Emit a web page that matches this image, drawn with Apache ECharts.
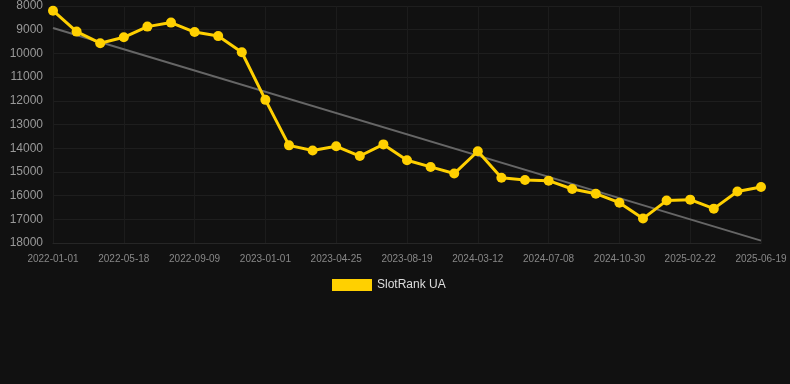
<!DOCTYPE html>
<html>
<head>
<meta charset="utf-8">
<script src="https://cdn.jsdelivr.net/npm/echarts@6/dist/echarts.min.js"></script>
<style>
html,body{margin:0;padding:0;background:#111111;}
#chart{width:790px;height:384px;}
</style>
</head>
<body>
<div id="chart"></div>
<script>
var categories = [
  '2022-01-01','2022-02-15','2022-04-01','2022-05-18','2022-06-25','2022-08-02','2022-09-09','2022-10-17','2022-11-24',
  '2023-01-01','2023-02-08','2023-03-18','2023-04-25','2023-06-02','2023-07-11','2023-08-19','2023-10-27','2024-01-04',
  '2024-03-12','2024-04-20','2024-05-30','2024-07-08','2024-08-15','2024-09-22','2024-10-30','2024-12-08','2025-01-15',
  '2025-02-22','2025-04-01','2025-05-10','2025-06-19'
];
var rankValues = [
  8200, 9080, 9570, 9320, 8870, 8700, 9100, 9270, 9950,
  11960, 13880, 14100, 13920, 14330, 13840, 14510, 14790, 15070,
  14130, 15250, 15340, 15370, 15720, 15920, 16300, 16970, 16210,
  16170, 16550, 15830, 15640
];
var trendStart = 8930;
var trendEnd = 17900;
var yTicks = [8000, 18000, 1000];

var trendValues = categories.map(function (c, i) {
  return i === 0 ? trendStart : (i === categories.length - 1 ? trendEnd : null);
});

var chart = echarts.init(document.getElementById('chart'), null, {renderer: 'canvas'});
chart.setOption({
  backgroundColor: '#111111',
  animation: false,
  grid: {left: 53, right: 29, top: 6, bottom: 141, containLabel: false},
  legend: {
    data: [{name: 'SlotRank UA', icon: 'rect'}],
    top: 274,
    left: 327,
    itemWidth: 40,
    itemHeight: 12,
    textStyle: {color: '#dddddd', fontSize: 12, fontFamily: 'Liberation Sans, Arial, sans-serif'}
  },
  xAxis: {
    type: 'category',
    data: categories,
    boundaryGap: false,
    axisLine: {show: true, lineStyle: {color: '#262626'}},
    axisTick: {show: false},
    axisLabel: {interval: 2, color: '#888888', fontSize: 10, margin: 11, fontFamily: 'Liberation Sans, Arial, sans-serif'},
    splitLine: {show: true, interval: 2, lineStyle: {color: '#1c1c1c'}}
  },
  yAxis: {
    type: 'value',
    inverse: true,
    min: yTicks[0],
    max: yTicks[1],
    interval: yTicks[2],
    axisLine: {show: false},
    axisTick: {show: false},
    axisLabel: {color: '#999999', fontSize: 12, margin: 10, fontFamily: 'Liberation Sans, Arial, sans-serif',
      formatter: function (v) { return String(v); }},
    splitLine: {show: true, lineStyle: {color: '#1e1e1e'}}
  },
  series: [
    {
      name: 'Trend',
      type: 'line',
      data: trendValues,
      connectNulls: true,
      symbol: 'none',
      silent: true,
      lineStyle: {color: '#666666', width: 2},
      z: 1
    },
    {
      name: 'SlotRank UA',
      type: 'line',
      data: rankValues,
      symbol: 'circle',
      symbolSize: 10,
      itemStyle: {color: '#ffd000'},
      lineStyle: {color: '#ffd000', width: 3},
      z: 2
    }
  ]
});
</script>
</body>
</html>
